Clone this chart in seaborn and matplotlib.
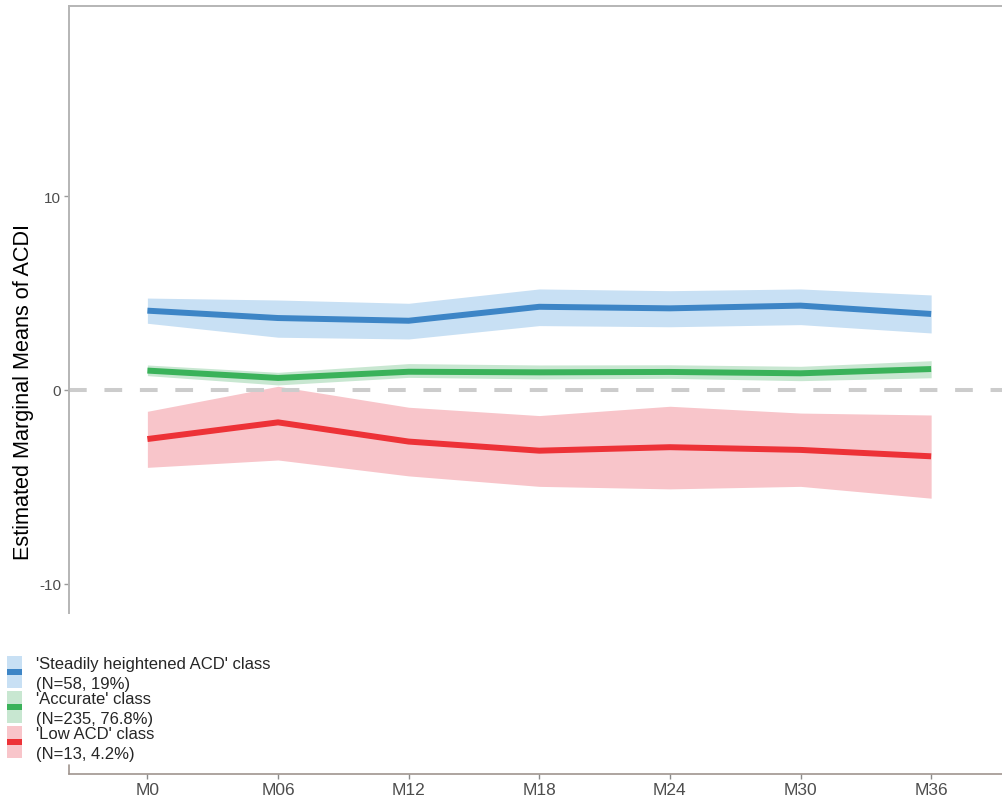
import matplotlib
matplotlib.use("Agg")
import matplotlib.pyplot as plt
import seaborn as sns
import pandas as pd
from matplotlib.patches import Patch, Rectangle
from matplotlib.lines import Line2D
from matplotlib.legend_handler import HandlerTuple, HandlerPatch

# ---- data ----
timepoints = ["M0", "M06", "M12", "M18", "M24", "M30", "M36"]
class_labels = ["'Steadily heightened ACD' class\n(N=58, 19%)",
                "'Accurate' class\n(N=235, 76.8%)",
                "'Low ACD' class\n(N=13, 4.2%)"]

steady_mean = [4.09, 3.71, 3.57, 4.29, 4.21, 4.35, 3.92]
steady_low = [3.44, 2.72, 2.63, 3.32, 3.26, 3.37, 2.94]
steady_high = [4.74, 4.64, 4.47, 5.21, 5.12, 5.21, 4.90]

accurate_mean = [1.00, 0.62, 0.94, 0.91, 0.93, 0.86, 1.08]
accurate_low = [0.74, 0.26, 0.65, 0.57, 0.60, 0.48, 0.63]
accurate_high = [1.29, 0.91, 1.36, 1.29, 1.30, 1.22, 1.51]

low_mean = [-2.53, -1.67, -2.66, -3.13, -2.95, -3.09, -3.42]
low_low = [-3.99, -3.61, -4.43, -4.97, -5.10, -4.97, -5.58]
low_high = [-1.10, 0.19, -0.89, -1.32, -0.84, -1.19, -1.29]

line_colors = ["#3D85C6", "#3AB25A", "#ED3237"]
band_colors = ["#C8E0F4", "#C8E7D1", "#F8C5CA"]

means = [steady_mean, accurate_mean, low_mean]
lows = [steady_low, accurate_low, low_low]
highs = [steady_high, accurate_high, low_high]

rows = []
for lab, m in zip(class_labels, means):
    for t, v in zip(timepoints, m):
        rows.append({"time": t, "emm": v, "cls": lab})
df = pd.DataFrame(rows)

# ---- figure ----
sns.set_style("white")
plt.rcParams["font.family"] = ["Liberation Sans", "DejaVu Sans"]

W, H = 1003, 804
fig = plt.figure(figsize=(W / 100, H / 100), dpi=100)
ax = fig.add_axes([69 / W, 1 - 614 / H, 1 - 69 / W, (614 - 7) / H])

# bands
for lo, hi, bc in zip(lows, highs, band_colors):
    ax.fill_between(timepoints, lo, hi, color=bc, lw=0, zorder=1)

# reference line
ax.axhline(0, color="#CCCCCC", lw=2.9, dashes=(4.4, 4.4), zorder=2,
           dash_capstyle="butt")

# lines
sns.lineplot(data=df, x="time", y="emm", hue="cls", palette=line_colors,
             hue_order=class_labels, lw=4.3, ax=ax, legend=False, zorder=3,
             sort=False, solid_capstyle="butt")

ax.set_xlim(-0.6, 6.55)
ax.set_ylim(-11.5, 19.8)
ax.set_yticks([-10, 0, 10])
ax.set_yticklabels(["-10", "0", "10"])
ax.set_xlabel("")
ax.set_ylabel("Estimated Marginal Means of ACDI", fontsize=15.6, color="black")
ax.yaxis.set_label_coords(-0.0375, 0.365)

ax.spines["right"].set_visible(False)
ax.spines["top"].set_color("#B5B5B5")
ax.spines["top"].set_linewidth(1.4)
ax.spines["left"].set_color("#B5B5B5")
ax.spines["left"].set_linewidth(1.4)
ax.spines["bottom"].set_position(("outward", 161 * 0.72))
ax.spines["bottom"].set_color("#A0958F")
ax.spines["bottom"].set_linewidth(1.2)

ax.tick_params(axis="y", direction="out", length=3.5, width=1, color="#9A9A9A",
               labelsize=11, labelcolor="#4D4D4D", pad=2, left=True)
ax.tick_params(axis="x", direction="out", length=3.5, width=1, color="#8A8A8A",
               labelsize=12.5, labelcolor="#4D4D4D", pad=2, bottom=True)

# small stub of bottom panel's left edge
fig.add_artist(Line2D([69 / W, 69 / W], [1 - 766 / H, 1 - 775 / H],
                      color="#A0958F", lw=1.2, transform=fig.transFigure))

# legend: band box (23pt tall) with a centred thick line
BOX_H = 23.0
DY = -0.7


def band_box(legend, orig_handle, xdescent, ydescent, width, height, fontsize):
    return Rectangle((-xdescent, -ydescent + DY), width, BOX_H)


def centred_bar(legend, orig_handle, xdescent, ydescent, width, height, fontsize):
    lh = 4.3
    return Rectangle((-xdescent, -ydescent + DY + BOX_H / 2 - lh / 2), width, lh)


handles = []
hmap = {tuple: HandlerTuple(ndivide=1, pad=0)}
for bc, lc in zip(band_colors, line_colors):
    box = Patch(facecolor=bc, edgecolor="none")
    bar = Patch(facecolor=lc, edgecolor="none")
    hmap[box] = HandlerPatch(patch_func=band_box)
    hmap[bar] = HandlerPatch(patch_func=centred_bar)
    handles.append((box, bar))

leg = fig.legend(handles, class_labels, loc="upper left",
                 bbox_to_anchor=(7 / W, 1 - 657 / H), frameon=False, fontsize=12,
                 handlelength=0.9, handleheight=2.0, handletextpad=0.85,
                 labelspacing=-0.02, borderpad=0, borderaxespad=0,
                 handler_map=hmap)
for t in leg.get_texts():
    t.set_linespacing(1.43)

fig.savefig("out.png", dpi=100)
